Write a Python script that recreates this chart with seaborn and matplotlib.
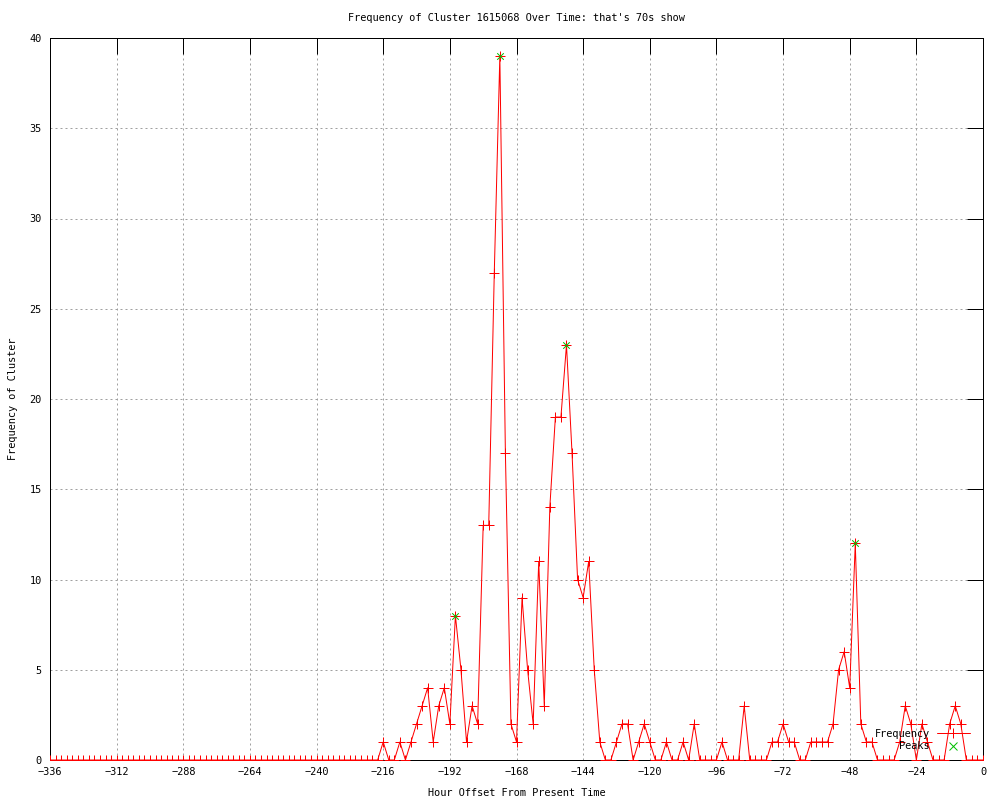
import matplotlib
matplotlib.use("Agg")
import matplotlib.pyplot as plt
from matplotlib.lines import Line2D
import seaborn as sns
import pandas as pd
import numpy as np

# ---- data ----
hours = list(range(-336, 1, 2))
frequency = [
    # -336 .. -218
    0, 0, 0, 0, 0, 0, 0, 0, 0, 0,
    0, 0, 0, 0, 0, 0, 0, 0, 0, 0,
    0, 0, 0, 0, 0, 0, 0, 0, 0, 0,
    0, 0, 0, 0, 0, 0, 0, 0, 0, 0,
    0, 0, 0, 0, 0, 0, 0, 0, 0, 0,
    0, 0, 0, 0, 0, 0, 0, 0, 0, 0,
    # -216 .. -182
    1, 0, 0, 1, 0, 1, 2, 3, 4, 1, 3, 4, 2, 8, 5, 1, 3, 2,
    # -180 .. -138
    13, 13, 27, 39, 17, 2, 1, 9, 5, 2, 11, 3, 14, 19, 19, 23, 17, 10, 9, 11, 5, 1,
    # -136 .. -98
    0, 0, 1, 2, 2, 0, 1, 2, 1, 0, 0, 1, 0, 0, 1, 0, 2, 0, 0, 0,
    # -96 .. -58
    0, 1, 0, 0, 0, 3, 0, 0, 0, 0, 1, 1, 2, 1, 1, 0, 0, 1, 1, 1,
    # -56 .. -18
    1, 2, 5, 6, 4, 12, 2, 1, 1, 0, 0, 0, 0, 1, 3, 2, 0, 2, 1, 0,
    # -16 .. 0
    0, 0, 2, 3, 2, 0, 0, 0, 0,
]
peak_hours = [-190, -174, -150, -46]
peak_values = [8, 39, 23, 12]

title = "Frequency of Cluster 1615068 Over Time: that's 70s show"
xlabel = "Hour Offset From Present Time"
ylabel = "Frequency of Cluster"
xticks = list(range(-336, 1, 24))
yticks = list(range(0, 41, 5))

df = pd.DataFrame({"hour": hours, "freq": frequency})
peaks = pd.DataFrame({"hour": peak_hours, "freq": peak_values})

RED = "#ff0000"
GREEN = "#00c000"

sns.set_theme(style="white")
plt.rcParams["font.family"] = ["DejaVu Sans Mono", "DejaVu Sans"]
FS = 7.4
PX = 0.72  # one pixel in points at 100 dpi

fig = plt.figure(figsize=(10, 8), dpi=100)
ax = fig.add_axes([0.05, 0.05, 0.933, 0.9025])

sns.lineplot(data=df, x="hour", y="freq", ax=ax, color=RED, linewidth=PX,
             marker="+", markersize=6.5, zorder=3, legend=False)
for ln in ax.lines:
    ln.set_markeredgecolor(RED)
    ln.set_markerfacecolor(RED)
    ln.set_markeredgewidth(PX)
sns.scatterplot(data=peaks, x="hour", y="freq", ax=ax, color=GREEN, marker="x",
                s=22, linewidth=PX, zorder=4, legend=False)

ax.set_xlim(-336, 0)
ax.set_ylim(0, 40)
ax.set_xticks(xticks)
ax.set_yticks(yticks)

ax.grid(True, color="#a0a0a0", linestyle=(0, (2, 3)), linewidth=PX)
ax.set_axisbelow(True)
for s in ax.spines.values():
    s.set_color("black")
    s.set_linewidth(PX)
    s.set_visible(True)
ax.tick_params(axis="both", which="major", direction="in", length=11.5, width=PX,
               color="black", top=True, right=True, labelsize=FS, labelcolor="black")
ax.tick_params(axis="x", pad=5)
ax.tick_params(axis="y", pad=6)

ax.set_xlabel(xlabel, fontsize=FS, color="black")
ax.set_ylabel(ylabel, fontsize=FS, color="black")
ax.xaxis.set_label_coords(0.5, (760 - 793) / 722)
ax.xaxis.label.set_va("center")
ax.yaxis.set_label_coords((13 - 50) / 933, 0.5)
ax.yaxis.label.set_va("center")
ax.set_title(title, fontsize=FS, color="black", y=(760 - 18) / 722, va="center", pad=0)

handles = [
    Line2D([], [], color=RED, linewidth=PX, marker="+", markersize=6.5,
           markeredgecolor=RED, markeredgewidth=PX),
    Line2D([], [], color=GREEN, linestyle="none", marker="x", markersize=5.5,
           markeredgecolor=GREEN, markeredgewidth=PX),
]
leg = ax.legend(handles, ["Frequency", "Peaks"], loc="lower right",
                bbox_to_anchor=(0.986, 0.012), frameon=False,
                markerfirst=False, fontsize=FS, handlelength=3.2, handletextpad=0.7,
                labelspacing=0.25, borderpad=0, borderaxespad=0)
for t in leg.get_texts():
    t.set_color("black")

fig.savefig("out.png", dpi=100)
